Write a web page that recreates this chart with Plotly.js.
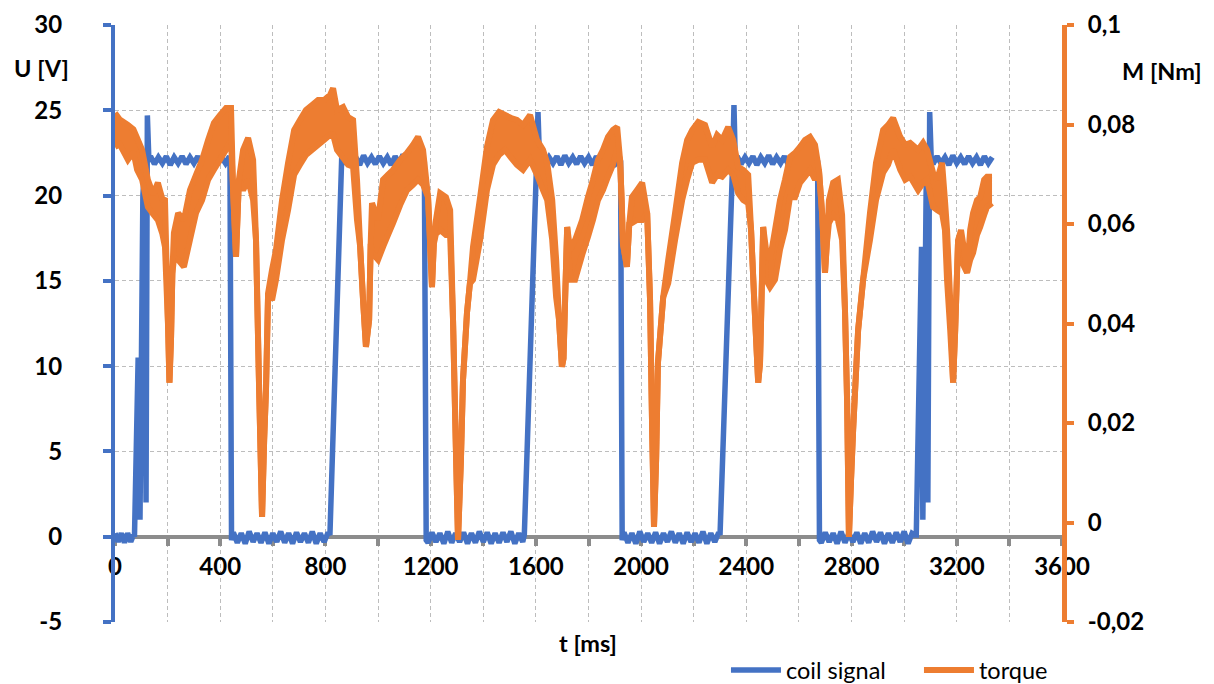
<!DOCTYPE html>
<html>
<head>
<meta charset="utf-8">
<script src="https://cdn.plot.ly/plotly-3.0.1.min.js"></script>
<style>html,body{margin:0;padding:0;background:#fff;}#chart{width:1214px;height:684px;}</style>
</head>
<body>
<div id="chart"></div>
<script>
// ---- coil signal U [V] vs t [ms] ----
const coilT = [
  0,12,24,36,48,60,70,
  74,88,95,106,112,118,123,129,
  135,150,165,180,195,210,225,240,255,270,285,300,315,330,345,360,375,390,405,420,435,
  437,443,
  450,465,480,495,510,525,540,555,570,585,600,615,630,645,660,675,690,705,720,735,750,765,780,795,810,
  817,862,
  870,885,900,915,930,945,960,975,990,1005,1020,1035,1050,1065,1080,1095,1110,1125,1140,1155,1170,
  1176,1183,
  1190,1205,1220,1235,1250,1265,1280,1295,1310,1325,1340,1355,1370,1385,1400,1415,1430,1445,1460,1475,1490,1505,1520,1535,1550,
  1556,1602,1608,1614,
  1620,1635,1650,1665,1680,1695,1710,1725,1740,1755,1770,1785,1800,1815,1830,1845,1860,1875,1890,1905,1916,
  1922,1928,
  1935,1950,1965,1980,1995,2010,2025,2040,2055,2070,2085,2100,2115,2130,2145,2160,2175,2190,2205,2220,2235,2250,2265,2280,2295,
  2300,2348,2353,2358,
  2365,2380,2395,2410,2425,2440,2455,2470,2485,2500,2515,2530,2545,2560,2575,2590,2605,2620,2635,2650,2665,
  2671,2678,
  2685,2700,2715,2730,2745,2760,2775,2790,2805,2820,2835,2850,2865,2880,2895,2910,2925,2940,2955,2970,2985,3000,3015,3030,3040,
  3046,3066,3071,3084,3090,3097,3103,
  3110,3125,3140,3155,3170,3185,3200,3215,3230,3245,3260,3275,3290,3305,3320,3335
];
const coilU = [
  0.2,-0.3,0.2,-0.35,0.2,-0.3,0.1,
  0,10.5,1.0,20,21.5,2.0,24.7,22.0,
  22.3,21.85,22.25,21.9,22.3,21.8,22.25,21.9,22.3,21.85,22.25,21.9,22.3,21.8,22.25,21.9,22.35,21.85,22.25,21.9,22.3,
  22.1,-0.2,
  0.25,-0.35,0.2,-0.4,0.3,-0.3,0.2,-0.35,0.25,-0.4,0.2,-0.3,0.3,-0.35,0.2,-0.4,0.25,-0.3,0.2,-0.35,0.3,-0.4,0.2,-0.3,0.25,
  0.1,22.3,
  21.85,22.3,21.9,22.25,21.8,22.35,21.9,22.25,21.85,22.3,21.9,22.25,21.8,22.3,21.9,22.4,21.85,22.25,21.9,22.3,21.9,
  22.0,-0.2,
  -0.35,0.25,-0.3,0.2,-0.4,0.3,-0.35,0.2,-0.3,0.25,-0.4,0.2,-0.35,0.3,-0.3,0.25,-0.4,0.2,-0.35,0.25,-0.3,0.3,-0.4,0.2,-0.3,
  0.1,21.6,24.9,22.0,
  22.3,21.85,22.25,21.9,22.3,21.8,22.35,21.9,22.25,21.85,22.3,21.9,22.25,21.8,22.3,21.9,22.25,21.85,22.3,21.9,22.1,
  22.0,-0.2,
  0.25,-0.35,0.2,-0.4,0.3,-0.3,0.2,-0.35,0.25,-0.4,0.2,-0.3,0.3,-0.35,0.2,-0.4,0.25,-0.3,0.2,-0.35,0.3,-0.4,0.2,-0.3,0.25,
  0.1,21.9,25.3,22.0,
  22.3,21.85,22.25,21.9,22.3,21.8,22.25,21.9,22.35,21.85,22.25,21.9,22.3,21.8,22.25,21.9,22.3,21.85,22.25,21.9,22.3,
  22.0,-0.2,
  -0.35,0.25,-0.3,0.2,-0.4,0.3,-0.35,0.2,-0.3,0.25,-0.4,0.2,-0.35,0.3,-0.3,0.25,-0.4,0.2,-0.35,0.25,-0.3,0.3,-0.4,0.2,0.1,
  0.1,17,1.0,21,2.0,24.9,22.1,
  21.85,22.3,21.9,22.25,21.8,22.35,21.9,22.25,21.85,22.3,21.9,22.25,21.8,22.3,21.9,22.25
];

// ---- torque M [Nm] vs t [ms]: upper and lower edge of the noisy trace ----
const torqueT = [
  0,18,49,70,84,
  103,125,145,163,180,
  190,202,207,213,218,224,240,
  262,285,308,331,354,
  376,399,422,441,449,460,
  471,487,506,525,536,547,559,
  567,574,582,597,612,635,658,
  681,703,726,749,772,
  795,817,829,844,867,
  886,905,920,932,943,954,
  960,966,972,977,1000,1019,1038,
  1057,1084,1110,1133,1152,
  1171,1190,1198,1205,1212,1220,1236,
  1258,1274,1285,1296,1304,1315,1323,
  1338,1349,1361,1388,1414,1437,
  1460,1483,1506,1528,1551,
  1578,1604,1627,1643,1662,
  1677,1688,1699,1705,1711,1719,1730,1749,
  1776,1798,1817,1836,1855,
  1874,1893,1909,1920,1926,1931,
  1946,1955,1965,1984,2004,2023,2034,
  2042,2049,2057,2064,2084,2103,2129,2156,
  2175,2194,2217,2243,2270,
  2289,2308,2331,2350,2369,
  2388,2407,2418,2430,2445,2452,2456,
  2464,2475,2490,2509,2528,2547,
  2566,2585,2604,2623,2642,
  2661,2676,2688,2699,2706,2714,2730,
  2748,2764,2775,2783,2790,2798,2806,
  2825,2844,2870,2893,2920,2939,
  2958,2985,3004,3023,3053,
  3072,3087,3110,3125,3144,
  3155,3163,3175,3186,3194,3205,3216,
  3228,3239,3251,3262,3277,
  3289,3304,3315,3334
];
const torqueHi = [
  .0823,.0810,.0799,.0790,.0773,
  .0749,.0689,.0660,.0683,.0650,
  .0648,.0390,.0281,.0370,.0500,.0582,.0622,
  .0608,.0668,.0699,.0729,.0769,
  .0803,.0819,.0833,.0833,.0668,.0534,
  .0689,.0749,.0773,.0729,.0568,.0290,.0011,
  .0166,.0266,.0461,.0508,.0548,.0648,.0723,
  .0789,.0809,.0829,.0839,.0849,
  .0849,.0859,.0873,.0829,.0835,
  .0815,.0809,.0689,.0554,.0447,.0353,
  .0380,.0407,.0560,.0642,.0608,.0689,.0699,
  .0709,.0729,.0743,.0759,.0775,
  .0749,.0654,.0560,.0473,.0560,.0608,.0662,
  .0654,.0628,.0407,.0146,-.0035,.0126,.0287,
  .0421,.0480,.0554,.0654,.0755,.0809,
  .0825,.0819,.0813,.0809,.0799,
  .0819,.0769,.0749,.0723,.0648,
  .0528,.0407,.0313,.0330,.0447,.0594,.0548,.0568,
  .0608,.0654,.0689,.0729,.0749,
  .0775,.0789,.0795,.0729,.0648,.0560,
  .0514,.0600,.0654,.0668,.0683,.0622,.0447,
  .0186,-.0009,.0126,.0321,.0453,.0528,.0622,.0723,
  .0769,.0789,.0805,.0799,.0755,
  .0779,.0769,.0795,.0769,.0715,
  .0709,.0699,.0588,.0447,.0281,.0320,.0407,
  .0594,.0548,.0528,.0588,.0648,.0689,
  .0735,.0743,.0755,.0769,.0775,
  .0759,.0709,.0622,.0502,.0560,.0648,.0683,
  .0689,.0618,.0427,.0246,-.0029,.0085,.0186,
  .0387,.0488,.0622,.0723,.0789,.0799,
  .0813,.0775,.0759,.0763,.0749,
  .0763,.0749,.0703,.0689,.0723,
  .0648,.0588,.0447,.0281,.0387,.0568,.0588,
  .0548,.0502,.0588,.0622,.0648,
  .0654,.0689,.0695,.0695
];
const torqueLo = [
  .0755,.0760,.0729,.0745,.0709,
  .0689,.0634,.0620,.0608,.0580,
  .0554,.0390,.0281,.0370,.0500,.0530,.0528,
  .0514,.0568,.0622,.0648,.0689,
  .0709,.0729,.0749,.0769,.0668,.0534,
  .0689,.0668,.0689,.0648,.0568,.0290,.0011,
  .0166,.0266,.0461,.0447,.0488,.0568,.0628,
  .0699,.0719,.0739,.0749,.0759,
  .0769,.0779,.0780,.0749,.0733,
  .0719,.0715,.0608,.0554,.0447,.0353,
  .0380,.0407,.0560,.0542,.0528,.0554,.0578,
  .0602,.0638,.0668,.0679,.0689,
  .0679,.0654,.0560,.0473,.0560,.0580,.0588,
  .0578,.0578,.0407,.0146,-.0035,.0126,.0287,
  .0421,.0480,.0488,.0568,.0668,.0719,
  .0739,.0749,.0733,.0719,.0709,
  .0729,.0699,.0668,.0648,.0568,
  .0453,.0407,.0313,.0330,.0447,.0594,.0488,.0488,
  .0538,.0574,.0608,.0648,.0668,
  .0695,.0719,.0749,.0729,.0648,.0560,
  .0514,.0600,.0602,.0608,.0608,.0622,.0447,
  .0186,-.0009,.0126,.0321,.0453,.0481,.0568,.0648,
  .0689,.0723,.0729,.0729,.0683,
  .0699,.0695,.0709,.0699,.0662,
  .0648,.0642,.0588,.0447,.0281,.0320,.0407,
  .0594,.0488,.0473,.0488,.0548,.0588,
  .0654,.0654,.0683,.0695,.0709,
  .0689,.0709,.0622,.0502,.0560,.0602,.0618,
  .0608,.0568,.0427,.0246,-.0029,.0085,.0186,
  .0387,.0488,.0568,.0648,.0703,.0719,
  .0749,.0709,.0689,.0695,.0668,
  .0683,.0689,.0634,.0628,.0622,
  .0588,.0488,.0387,.0281,.0387,.0568,.0528,
  .0514,.0502,.0528,.0542,.0578,
  .0594,.0618,.0634,.0642
];

// ---- tick labels ----
const xTickVals = [0,400,800,1200,1600,2000,2400,2800,3200,3600];
const xTickText = ['0','400','800','1200','1600','2000','2400','2800','3200','3600'];
const uTickVals = [-5,0,5,10,15,20,25,30];
const uTickText = ['-5','0','5','10','15','20','25','30'];
const mTickVals = [-0.02,0,0.02,0.04,0.06,0.08,0.1];
const mTickText = ['-0,02','0','0,02','0,04','0,06','0,08','0,1'];

const BLUE = '#4472C4', ORANGE = '#ED7D31', GRAY = '#8c8c8c', GRID = '#bdbdbd';
const tickFont = {family:'Lato', size:24, weight:700, color:'#000'};
const titleFont = {family:'Lato', size:23.5, weight:700, color:'#000'};

const traces = [
  {x: coilT, y: coilU, type:'scatter', mode:'lines', name:'coil signal',
   line:{color:BLUE, width:5.5, simplify:false}, xaxis:'x', yaxis:'y'},
  {x: torqueT, y: torqueLo, type:'scatter', mode:'lines', name:'torque', legendgroup:'torque',
   line:{color:ORANGE, width:6, simplify:false}, xaxis:'x', yaxis:'y2'},
  {x: torqueT, y: torqueHi, type:'scatter', mode:'lines', name:'torque', legendgroup:'torque',
   showlegend:false, fill:'tonexty', fillcolor:ORANGE,
   line:{color:ORANGE, width:6, simplify:false}, xaxis:'x', yaxis:'y2'}
];

const x0frac = 5/35;
const layout = {
  width:1214, height:684,
  margin:{l:115, r:152, t:25, b:62, autoexpand:false},
  paper_bgcolor:'#fff', plot_bgcolor:'#fff',
  showlegend:true,
  legend:{orientation:'h', xref:'container', yref:'container', x:0.598, y:0.02,
          xanchor:'left', yanchor:'middle', entrywidth:128, entrywidthmode:'pixels',
          font:{family:'Lato', size:23.5, color:'#000'}, itemwidth:50, tracegroupgap:0},
  xaxis:{range:[0,3600], anchor:'free', position:x0frac, layer:'below traces',
         tickvals:xTickVals, ticktext:xTickText, tickfont:tickFont,
         showline:true, linecolor:GRAY, linewidth:4,
         ticks:'outside', ticklen:7, tickwidth:4, tickcolor:GRAY, ticklabelstandoff:0,
         showgrid:true, gridcolor:GRID, gridwidth:1, griddash:'4px,3px',
         minor:{dtick:200, tick0:0, ticks:'outside', ticklen:7, tickwidth:4, tickcolor:GRAY,
                showgrid:true, gridcolor:GRID, gridwidth:1, griddash:'4px,3px'},
         zeroline:false, fixedrange:true},
  xaxis2:{range:[0,3600], overlaying:'x', anchor:'free', position:x0frac, layer:'below traces',
          dtick:200, tick0:0, ticks:'inside', ticklen:7, tickwidth:4, tickcolor:GRAY,
          showticklabels:false, showline:false, showgrid:false, zeroline:false},
  yaxis:{range:[-5,30], tickvals:uTickVals, ticktext:uTickText, tickfont:tickFont,
         showline:true, linecolor:BLUE, linewidth:4,
         ticks:'outside', ticklen:8, tickwidth:4, tickcolor:BLUE, ticklabelstandoff:36,
         showgrid:true, gridcolor:GRID, gridwidth:1, griddash:'4px,3px', zeroline:false},
  yaxis2:{range:[-0.02,0.1], overlaying:'y', side:'right', tickvals:mTickVals, ticktext:mTickText,
          tickfont:tickFont, showline:true, linecolor:ORANGE, linewidth:5,
          ticks:'outside', ticklen:7, tickwidth:4, tickcolor:ORANGE, ticklabelstandoff:9,
          showgrid:false, zeroline:false},
  annotations:[
    {text:'U [V]', xref:'paper', yref:'paper', x:-0.109, y:0.928, xanchor:'left', yanchor:'middle',
     showarrow:false, font:titleFont},
    {text:'M [Nm]', xref:'paper', yref:'paper', x:1.061, y:0.923, xanchor:'left', yanchor:'middle',
     showarrow:false, font:titleFont},
    {text:'t [ms]', xref:'paper', yref:'paper', x:0.4995, y:-0.036, xanchor:'center', yanchor:'middle',
     showarrow:false, font:titleFont}
  ]
};

Plotly.newPlot('chart', traces, layout, {staticPlot:true, displayModeBar:false});
</script>
</body>
</html>
